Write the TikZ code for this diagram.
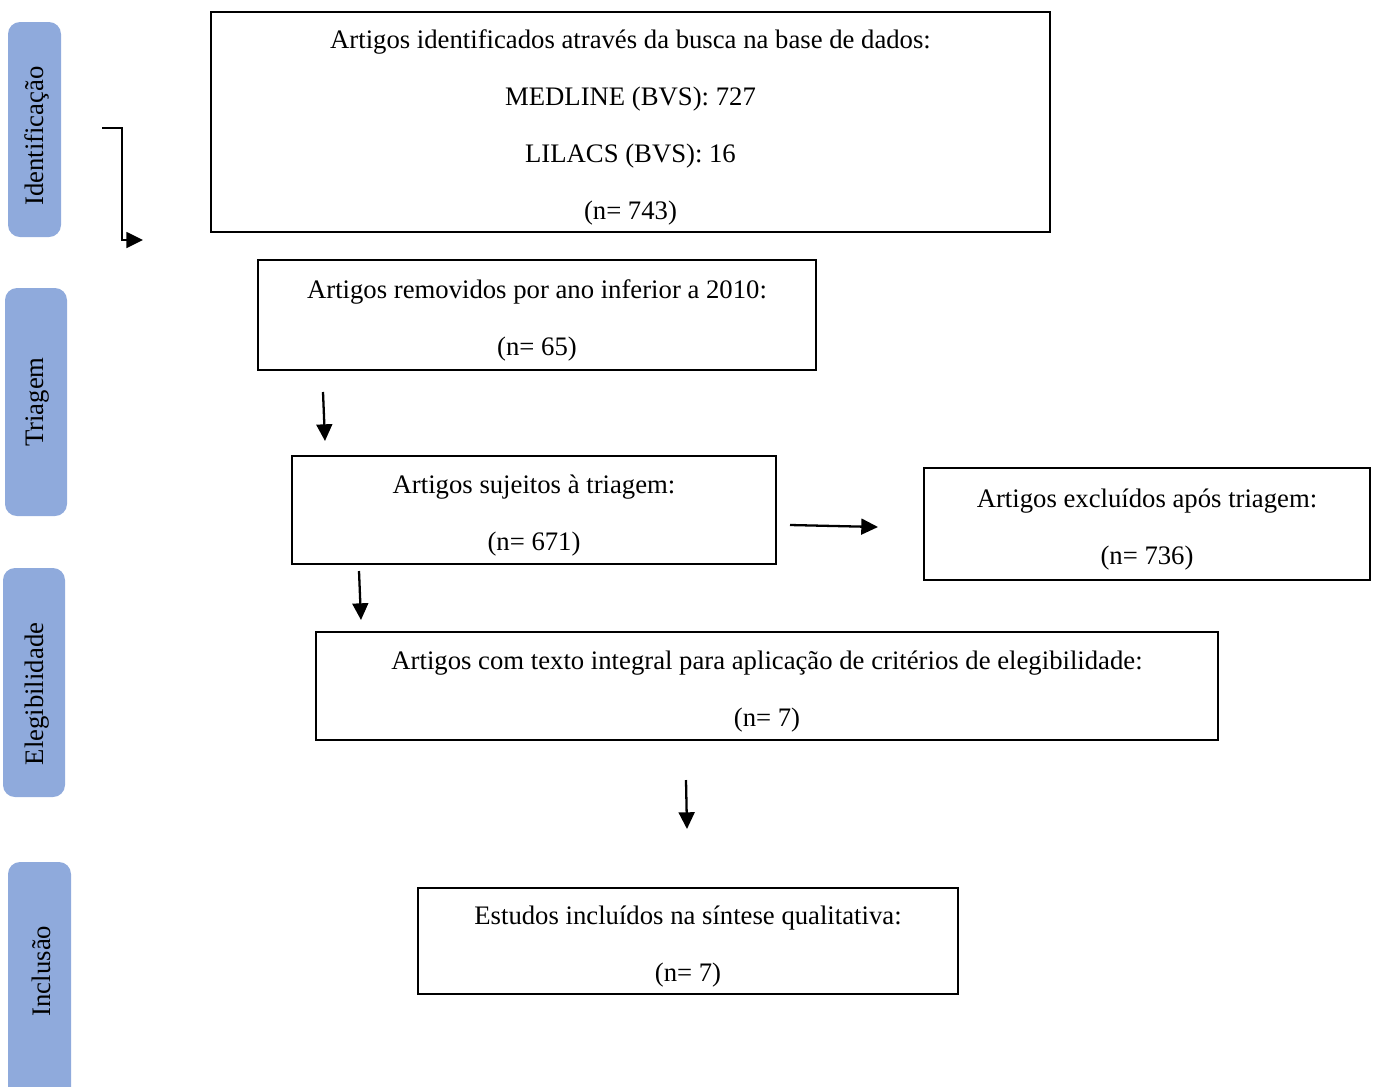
\documentclass[tikz,border=0pt]{standalone}
\usepackage{fontspec}
\setmainfont{Liberation Serif}
\usetikzlibrary{arrows.meta, positioning}
\definecolor{phaseblue}{RGB}{143, 170, 220}
\newcommand{\flowtext}[1]{\raisebox{-3.9pt}[0pt][0pt]{\begin{tabular}{@{}c@{}}#1\end{tabular}}}

\tikzset{
  flowbox/.style={draw, line width=1pt, inner sep=0pt,
    font=\fontsize{15.2}{32.4}\selectfont},
  phasebar/.style={fill=phaseblue, rounded corners=0.24cm},
  phase/.style={rotate=90, inner sep=0pt, font=\fontsize{15.2}{18}\selectfont},
  flowarrow/.style={line width=1.3pt, -{Triangle[length=9.5pt, width=9pt]}}
}

\begin{document}
\begin{tikzpicture}[x=0.02cm, y=-0.02cm]
    \clip (0,0) rectangle (1376,1086);
    % fases
    \fill[phasebar] (8,22) rectangle (61,237);
    \fill[phasebar] (5,288) rectangle (67,516);
    \fill[phasebar] (3,568) rectangle (65,797);
    \fill[phasebar] (8,862) rectangle (71,1100);
    \node[phase] (ident) at (37,136) {Identificação};
    \node[phase] (triag) at (38,402) {Triagem};
    \node[phase] (eleg) at (37,694) {Elegibilidade};
    \node[phase] (incl) at (41,971) {Inclusão};

    % caixas
    \node[flowbox, minimum width=16.78cm, minimum height=4.4cm] (busca) at (630.5,122)
      {\flowtext{Artigos identificados através da busca na base de dados:\\ MEDLINE (BVS): 727\\ LILACS (BVS): 16\\ (n= 743)}};
    \node[flowbox, minimum width=11.16cm, minimum height=2.2cm] (removidos) at (537,315)
      {\flowtext{Artigos removidos por ano inferior a 2010:\\ (n= 65)}};
    \node[flowbox, minimum width=9.68cm, minimum height=2.16cm] (triagem) at (534,510)
      {\flowtext{Artigos sujeitos à triagem:\\ (n= 671)}};
    \node[flowbox, minimum width=8.92cm, minimum height=2.24cm] (excluidos) at (1147,524)
      {\flowtext{Artigos excluídos após triagem:\\ (n= 736)}};
    \node[flowbox, minimum width=18.04cm, minimum height=2.16cm] (integral) at (767,686)
      {\flowtext{Artigos com texto integral para aplicação de critérios de elegibilidade:\\ (n= 7)}};
    \node[flowbox, minimum width=10.8cm, minimum height=2.12cm] (incluidos) at (688,941)
      {\flowtext{Estudos incluídos na síntese qualitativa:\\ (n= 7)}};

    % setas
    \coordinate (s1a) at (102,128);
    \coordinate (s1b) at (143,240);
    \coordinate (s2a) at (323,392);
    \coordinate (s2b) at (325,441);
    \coordinate (s3a) at (359,571);
    \coordinate (s3b) at (361,620);
    \coordinate (s4a) at (790,525);
    \coordinate (s4b) at (878,527);
    \coordinate (s5a) at (686,780);
    \coordinate (s5b) at (687,829);
    \draw[flowarrow] (s1a) -- ++(20,0) |- (s1b);
    \draw[flowarrow] (s2a) -- (s2b);
    \draw[flowarrow] (s3a) -- (s3b);
    \draw[flowarrow] (s4a) -- (s4b);
    \draw[flowarrow] (s5a) -- (s5b);
\end{tikzpicture}
\end{document}
